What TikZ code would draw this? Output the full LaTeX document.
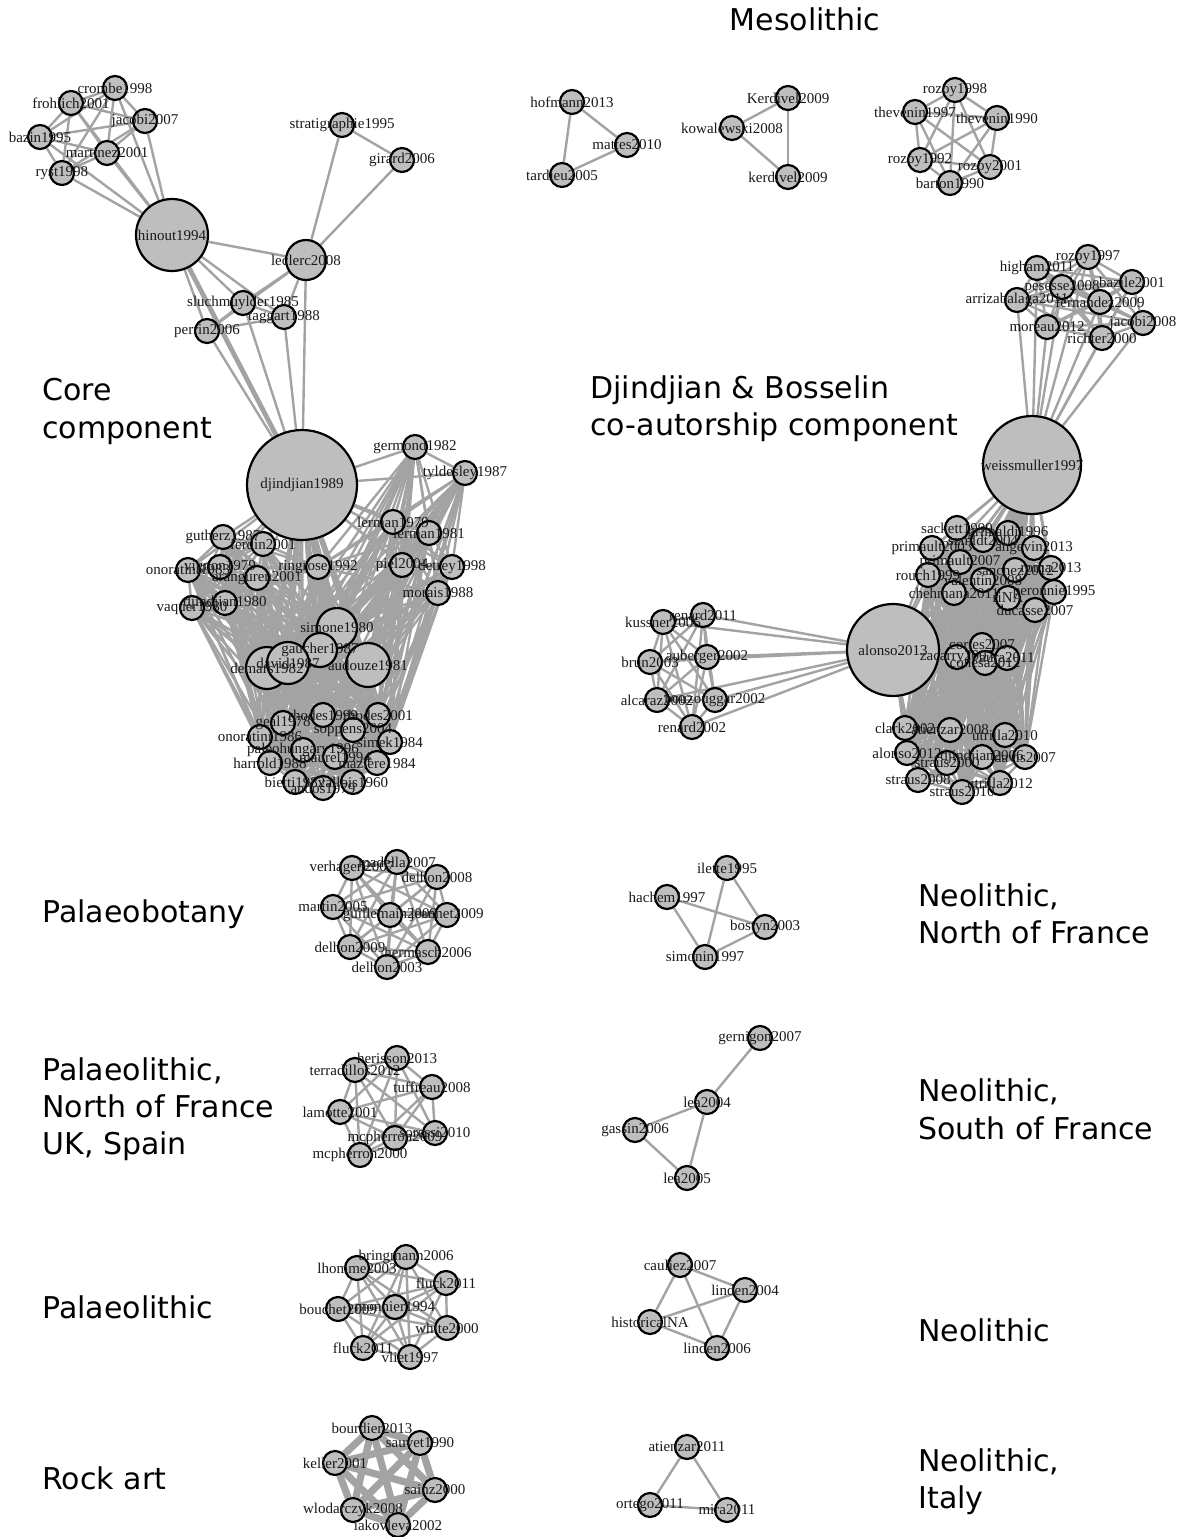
\documentclass[tikz,border=0pt]{standalone}
\usepackage{fontspec}
\setmainfont{Liberation Serif}
\newfontfamily\ttlfont{DejaVu Sans}
\pgfdeclarelayer{bg}\pgfdeclarelayer{fg}\pgfsetlayers{bg,main,fg}
\definecolor{vgray}{HTML}{BEBEBE}
\definecolor{egray}{HTML}{A3A3A3}
\tikzset{
 v/.style={circle,draw=black,fill=vgray,line width=1.1pt,inner sep=0pt},
 lab/.style={font=\fontsize{7.5}{8}\selectfont,inner sep=0pt,text=black!90},
 e/.style={draw=egray,line width=1.2pt},
 thk/.style={line width=2.4pt},
 ttl/.style={font=\ttlfont\fontsize{15}{18}\selectfont,anchor=base west,inner sep=0pt},
}
\newcommand\V[5][12pt]{\node[v,minimum size=#1] (#2) at (#3,#4) {};%
 \begin{pgfonlayer}{fg}\node[lab] (#2l) at (#3,#4) {#5};\end{pgfonlayer}}
\newcommand\clique[2][]{\edef\cqlist{#2}\begin{pgfonlayer}{bg}\foreach \a [count=\i] in \cqlist {\foreach \b [count=\j] in \cqlist {\ifnum\i<\j\relax\draw[e,#1] (\a)--(\b);\fi}}\end{pgfonlayer}}
\newcommand\bip[3][]{\edef\bpA{#2}\edef\bpB{#3}\begin{pgfonlayer}{bg}\foreach \a in \bpA {\foreach \b in \bpB {\draw[e,#1] (\a)--(\b);}}\end{pgfonlayer}}
\begin{document}
\begin{tikzpicture}[x=0.5pt,y=-0.5pt]
\useasboundingbox (0,0) rectangle (1182,1537);
% titles
\node[ttl,anchor=base] (tmeso) at (805,30) {Mesolithic};
\node[ttl] (tcore1) at (42,400) {Core};
\node[ttl] (tcore2) at (42,438) {component};
\node[ttl] (tdb1) at (590,398) {Djindjian \& Bosselin};
\node[ttl] (tdb2) at (590,435) {co-autorship component};
\node[ttl] (tbot) at (42,922) {Palaeobotany};
\node[ttl] (tnn1) at (918,906) {Neolithic,};
\node[ttl] (tnn2) at (918,943) {North of France};
\node[ttl] (tpn1) at (42,1080) {Palaeolithic,};
\node[ttl] (tpn2) at (42,1117) {North of France};
\node[ttl] (tpn3) at (42,1154) {UK, Spain};
\node[ttl] (tns1) at (918,1101) {Neolithic,};
\node[ttl] (tns2) at (918,1139) {South of France};
\node[ttl] (tpal) at (42,1318) {Palaeolithic};
\node[ttl] (tneo) at (918,1341) {Neolithic};
\node[ttl] (trock) at (42,1489) {Rock art};
\node[ttl] (tni1) at (918,1471) {Neolithic,};
\node[ttl] (tni2) at (918,1508) {Italy};

% ---------- core component ----------
\V{crombe}{115}{88}{crombe1998}
\V{frohlich}{71}{103}{frohlich2001}
\V{jacobiA}{145}{121}{jacobi2007}
\V{bazin}{40}{137}{bazin1995}
\V{martinez}{107}{153}{martinez2001}
\V{ryst}{62}{173}{ryst1998}
\V[36pt]{hinout}{172}{235}{hinout1994}
\V{strat}{342}{125}{stratigraphie1995}
\V{girard}{402}{160}{girard2006}
\V[20pt]{leclerc}{306}{260}{leclerc2008}
\V{sluch}{243}{303}{sluchmuylder1985}
\V{taggart}{284}{317}{taggart1988}
\V{perrin}{207}{331}{perrin2006}
\V[55pt]{djind}{302}{485}{djindjian1989}
\V{germond}{415}{447}{germond1982}
\V{tyldesley}{465}{473}{tyldesley1987}
\V{lermanA}{393}{522}{lerman1979}
\V{lermanB}{429}{533}{lerman1981}
\V{gutherz}{223}{537}{gutherz1987}
\V{ferdin}{263}{544}{ferdin2001}
\V{ringrose}{318}{567}{ringrose1992}
\V{piel}{402}{565}{piel2004}
\V{detrey}{452}{567}{detrey1998}
\V{morais}{438}{593}{morais1988}
\V{onoratA}{188}{570}{onoratini1983}
\V{vignon}{220}{567}{vignon1979}
\V{aranguren}{257}{578}{aranguren2001}
\V{vaquer}{192}{608}{vaquer1980}
\V{djindB}{225}{603}{djindjian1980}
\V[20pt]{simone}{337}{628}{simone1980}
\V[17pt]{gaucher}{320}{650}{gaucher1987}
\V[21pt]{demars}{267}{668}{demars1982}
\V[21pt]{david}{288}{663}{david1987}
\V[22pt]{audouze}{368}{665}{audouze1981}
\V{geal}{283}{723}{geal1978}
\V{rhodesA}{323}{715}{rhodes1999}
\V{rhodesB}{378}{715}{rhodes2001}
\V{soppens}{353}{730}{soppens2004}
\V{onoratB}{260}{737}{onoratini1986}
\V{simek}{390}{742}{simek1984}
\V{paleo}{303}{750}{paleohungary1996}
\V{maurel}{335}{757}{maurel1994}
\V{harrold}{270}{763}{harrold1988}
\V{maziere}{377}{763}{mazière1984}
\V{bietti}{295}{782}{bietti1982}
\V{vallois}{353}{782}{vallois1960}
\V{andos}{323}{788}{andos1979}

\clique{crombe,frohlich,jacobiA,bazin,martinez,ryst}
\bip{hinout}{crombe,frohlich,jacobiA,bazin,martinez,ryst}
\bip{leclerc}{hinout,strat,girard,sluch,taggart,perrin}
\bip{hinout}{sluch,perrin,taggart}
\bip{sluch}{taggart,perrin}
\bip{perrin}{taggart}
\bip{strat}{girard}
\bip[thk]{djind}{hinout}
\bip{djind}{perrin,sluch,taggart,leclerc}
\def\AL{gutherz,ferdin,onoratA,vignon,aranguren,vaquer,djindB}
\def\AR{lermanA,lermanB,piel,detrey,morais,germond,tyldesley}
\def\BB{simone,gaucher,david,demars,audouze}
\def\CC{geal,rhodesA,rhodesB,soppens,onoratB,simek,paleo,maurel,harrold,maziere,bietti,vallois,andos}
\def\CCsub{geal,rhodesB,onoratB,simek,harrold,maziere,bietti,vallois}
\bip{djind}{\AL,\AR,\CC}
\bip[thk]{djind}{ringrose,\BB}
\clique{\AL}
\clique{\AR}
\clique{\BB}
\clique{\CC}
\bip{\AL,\AR,ringrose}{\BB}
\bip{\AL,\AR}{\CCsub}
\bip{\BB}{\CC}
\bip{ringrose}{\AL,\AR,\CC}

% ---------- Mesolithic ----------
\V{hofmann}{572}{102}{hofmann2013}
\V{mattes}{627}{145}{mattes2010}
\V{tardieu}{562}{175}{tardieu2005}
\V{kerdA}{788}{98}{Kerdivel2009}
\V{kowal}{732}{128}{kowalewski2008}
\V{kerdB}{788}{177}{kerdivel2009}
\V{rozoyB}{955}{90}{rozoy1998}
\V{theveninA}{915}{112}{thevenin1997}
\V{theveninB}{997}{118}{thevenin1990}
\V{rozoyC}{920}{160}{rozoy1992}
\V{rozoyD}{990}{167}{rozoy2001}
\V{barton}{950}{183}{barton1990}
\clique{hofmann,mattes,tardieu}
\clique{kerdA,kowal,kerdB}
\clique{rozoyB,theveninA,theveninB,rozoyC,rozoyD,barton}

% ---------- Djindjian & Bosselin ----------
\V{higham}{1037}{268}{higham2011}
\V{rozoyA}{1088}{257}{rozoy1997}
\V{bazile}{1132}{282}{bazile2001}
\V{pesesse}{1062}{287}{pesesse2008}
\V{arriz}{1017}{300}{arrizabalaga2011}
\V{fernandez}{1100}{302}{fernandez2009}
\V{jacobiB}{1143}{323}{jacobi2008}
\V{moreau}{1047}{327}{moreau2012}
\V{richter}{1102}{338}{richter2000}
\V[49pt]{weiss}{1032}{465}{weissmuller1997}
\V{sackett}{957}{528}{sackett1999}
\V{szmidt}{983}{540}{szmidt2004}
\V{grimaldi}{1008}{533}{grimaldi1996}
\V{angevin}{1034}{548}{angevin2013}
\V{primA}{932}{548}{primault2003}
\V{primB}{960}{562}{primault2007}
\V{rouch}{928}{575}{rouch1999}
\V{valentin}{983}{580}{valentin2008}
\V{sanchez}{1015}{570}{sanchez2012}
\V{roma}{1051}{568}{roma2013}
\V{chehmana}{954}{593}{chehmana2011}
\V{rina}{1008}{598}{riNA}
\V{peronnie}{1054}{592}{peronnie1995}
\V{ducasse}{1035}{610}{ducasse2007}
\V{zacarry}{957}{657}{zacarry2007}
\V{cortes}{982}{645}{cortes2007}
\V{conesa}{985}{663}{conesa2012}
\V{aura}{1007}{658}{aura2011}
\V{clark}{905}{728}{clark2002}
\V{atienzB}{950}{730}{atienzar2008}
\V{utrillaA}{1005}{735}{utrilla2010}
\V{alonsoB}{907}{753}{alonso2012}
\V{strausA}{947}{763}{straus2000}
\V{djindC}{982}{757}{djindjian2006}
\V{davis}{1025}{757}{davis2007}
\V{strausB}{918}{780}{straus2008}
\V{utrillaB}{1000}{783}{utrilla2012}
\V{strausC}{962}{792}{straus2010}
\V[46pt]{alonso}{893}{650}{alonso2013}
\V{kussner}{663}{622}{kussner2006}
\V{renardA}{703}{615}{renard2011}
\V{brun}{650}{662}{brun2003}
\V{auberger}{707}{657}{auberger2002}
\V{alcaraz}{657}{700}{alcaraz2002}
\V{bouz}{715}{700}{bouzouggar2002}
\V{renardB}{692}{727}{renard2002}
\def\TOP{higham,rozoyA,bazile,pesesse,arriz,fernandez,jacobiB,moreau,richter}
\def\DEN{sackett,szmidt,grimaldi,angevin,primA,primB,rouch,valentin,sanchez,roma,chehmana,rina,peronnie,ducasse,zacarry,cortes,conesa,aura,clark,atienzB,utrillaA,alonsoB,strausA,djindC,davis,strausB,utrillaB,strausC}
\def\LEFT{kussner,renardA,brun,auberger,alcaraz,bouz,renardB}
\clique{\TOP}
\bip{weiss}{\TOP}
\clique{\DEN}
\bip{weiss}{\DEN}
\bip{alonso}{\DEN}
\bip{alonso}{weiss}
\clique{\LEFT}
\bip{alonso}{\LEFT}

% ---------- Palaeobotany ----------
\V{verhagen}{352}{868}{verhagen2007}
\V{madella}{397}{862}{madella2007}
\V{delhonA}{437}{877}{delhon2008}
\V{martin}{333}{907}{martin2005}
\V{guill}{390}{915}{guillemain2009}
\V{jeannet}{447}{915}{jeannet2009}
\V{delhonB}{350}{947}{delhon2009}
\V{hermasch}{428}{952}{hermasch2006}
\V{delhonC}{387}{967}{delhon2003}
\clique{verhagen,madella,delhonA,martin,guill,jeannet,delhonB,hermasch,delhonC}

% ---------- Neolithic, North of France ----------
\V{ilette}{727}{868}{ilette1995}
\V{hachem}{667}{897}{hachem1997}
\V{bostyn}{765}{927}{bostyn2003}
\V{simonin}{705}{957}{simonin1997}
\bip{hachem}{simonin,bostyn}
\bip{ilette}{simonin,bostyn}
\bip{simonin}{bostyn}

% ---------- Palaeolithic, North of France ----------
\V{herisson}{397}{1058}{herisson2013}
\V{terrad}{355}{1070}{terradillos2012}
\V{tuffreau}{432}{1087}{tuffreau2008}
\V{lamotte}{340}{1112}{lamotte2001}
\V{mcphA}{395}{1138}{mcpherron2009}
\V{soressi}{435}{1133}{soressi2010}
\V{mcphB}{360}{1155}{mcpherron2000}
\clique{herisson,terrad,tuffreau,lamotte,mcphA,soressi,mcphB}

% ---------- Neolithic, South of France ----------
\V{gernigon}{760}{1038}{gernigon2007}
\V{leaA}{707}{1102}{lea2004}
\V{gassin}{635}{1130}{gassin2006}
\V{leaB}{687}{1178}{lea2005}
\bip{leaA}{gernigon,gassin,leaB}
\bip{gassin}{leaB}

% ---------- Palaeolithic ----------
\V{bringmann}{406}{1257}{bringmann2006}
\V{lhomme}{357}{1268}{lhomme2003}
\V{fluckA}{446}{1283}{fluck2011}
\V{bouchet}{338}{1309}{bouchet2009}
\V{monnier}{395}{1307}{monnier1994}
\V{white}{447}{1328}{white2000}
\V{fluckB}{363}{1348}{fluck2011}
\V{vliet}{410}{1357}{vliet1997}
\clique{bringmann,lhomme,fluckA,bouchet,monnier,white,fluckB,vliet}

% ---------- Neolithic ----------
\V{cauliez}{680}{1265}{cauliez2007}
\V{lindenA}{745}{1290}{linden2004}
\V{histo}{650}{1322}{historicalNA}
\V{lindenB}{717}{1348}{linden2006}
\clique{cauliez,lindenA,histo,lindenB}

% ---------- Rock art ----------
\V{bourdier}{372}{1428}{bourdier2013}
\V{sauvet}{420}{1443}{sauvet1990}
\V{keller}{335}{1463}{keller2001}
\V{sainz}{435}{1490}{sainz2000}
\V{wlod}{353}{1510}{wlodarczyk2008}
\V{iakov}{398}{1525}{iakovleva2002}
\clique[line width=3.6pt]{bourdier,sauvet,keller,sainz,wlod,iakov}

% ---------- Neolithic, Italy ----------
\V{atienzA}{687}{1447}{atienzar2011}
\V{ortego}{650}{1505}{ortego2011}
\V{mira}{727}{1510}{mira2011}
\clique{atienzA,ortego,mira}
\end{tikzpicture}
\end{document}
